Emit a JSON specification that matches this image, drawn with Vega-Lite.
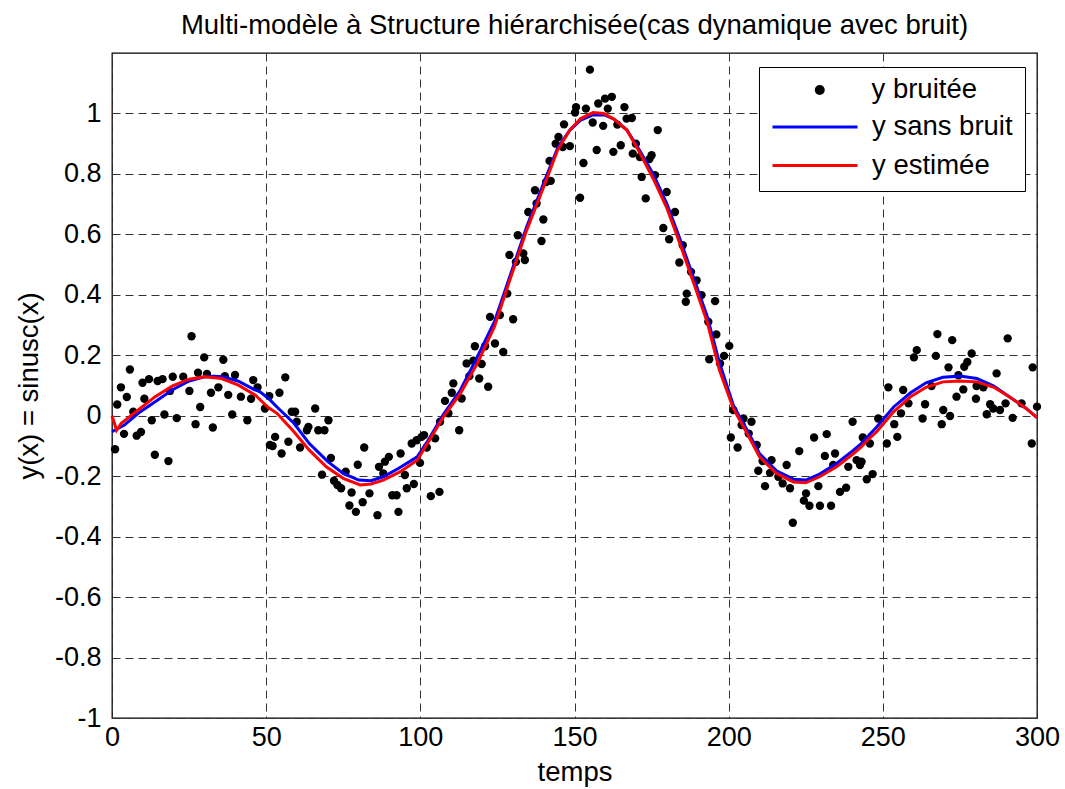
{
  "$schema": "https://vega.github.io/schema/vega-lite/v6.json",
  "width": 925,
  "height": 665,
  "autosize": {"type": "none"},
  "padding": {"left": 112, "top": 53, "right": 28, "bottom": 71},
  "background": "white",
  "title": {
    "text": "Multi-modèle à Structure hiérarchisée(cas dynamique avec bruit)",
    "font": "Liberation Sans",
    "fontSize": 27.5,
    "fontWeight": "normal",
    "color": "black",
    "anchor": "middle",
    "offset": 14
  },
  "config": {
    "view": {"stroke": "black", "strokeWidth": 1.3},
    "axis": {
      "labelFont": "Liberation Sans",
      "labelFontSize": 27,
      "labelColor": "black",
      "titleFont": "Liberation Sans",
      "titleFontSize": 27.5,
      "titleFontWeight": "normal",
      "titleColor": "black",
      "grid": true,
      "gridColor": "#333333",
      "gridDash": [8, 5],
      "gridWidth": 1,
      "domain": false,
      "ticks": false,
      "labelFlush": false,
      "labelOverlap": false
    },
    "legend": {
      "labelFont": "Liberation Sans",
      "labelFontSize": 27.5,
      "labelColor": "black",
      "titleFont": "Liberation Sans",
      "titleColor": "black",
      "clipHeight": 24,
      "rowPadding": 10.5
    }
  },
  "datasets": {
    "bruit": [
      {"t":1.0,"y":-0.111},{"t":1.7,"y":0.037},{"t":2.9,"y":0.094},{"t":3.9,"y":-0.060},{"t":4.8,"y":0.062},
      {"t":5.8,"y":0.153},{"t":6.9,"y":0.013},{"t":8.0,"y":-0.066},{"t":9.4,"y":-0.054},{"t":9.9,"y":0.109},
      {"t":10.5,"y":0.056},{"t":12.0,"y":0.121},{"t":12.9,"y":-0.015},{"t":13.9,"y":-0.129},{"t":14.8,"y":0.115},
      {"t":16.4,"y":0.121},{"t":17.0,"y":0.004},{"t":18.3,"y":-0.150},{"t":18.8,"y":0.082},{"t":19.7,"y":0.129},
      {"t":21.0,"y":-0.008},{"t":23.1,"y":0.129},{"t":25.1,"y":0.082},{"t":25.8,"y":0.263},{"t":27.1,"y":-0.028},
      {"t":27.9,"y":0.142},{"t":28.6,"y":0.029},{"t":29.9,"y":0.193},{"t":30.8,"y":0.138},{"t":32.1,"y":0.076},
      {"t":32.7,"y":-0.039},{"t":34.5,"y":0.094},{"t":36.1,"y":0.185},{"t":36.6,"y":0.131},{"t":37.7,"y":0.069},
      {"t":39.0,"y":0.004},{"t":39.9,"y":0.135},{"t":41.8,"y":0.063},{"t":43.9,"y":-0.015},{"t":45.1,"y":0.056},
      {"t":45.8,"y":0.118},{"t":47.2,"y":0.094},{"t":49.6,"y":0.024},{"t":51.2,"y":-0.097},
      {"t":51.0,"y":0.065},{"t":52.1,"y":-0.100},{"t":52.9,"y":-0.070},{"t":54.3,"y":0.076},{"t":55.0,"y":-0.125},
      {"t":56.2,"y":0.127},{"t":57.2,"y":-0.086},{"t":58.3,"y":0.013},{"t":59.4,"y":0.013},{"t":59.9,"y":-0.020},
      {"t":61.0,"y":-0.105},{"t":63.2,"y":-0.048},{"t":63.7,"y":-0.037},{"t":65.9,"y":0.024},{"t":66.9,"y":-0.048},
      {"t":68.1,"y":-0.195},{"t":68.9,"y":-0.048},{"t":70.2,"y":-0.015},{"t":71.0,"y":-0.140},{"t":72.0,"y":-0.215},
      {"t":73.1,"y":-0.229},{"t":74.3,"y":-0.240},{"t":75.8,"y":-0.185},{"t":77.0,"y":-0.297},{"t":77.7,"y":-0.254},
      {"t":79.1,"y":-0.318},{"t":79.7,"y":-0.162},{"t":81.3,"y":-0.286},{"t":81.8,"y":-0.105},{"t":83.5,"y":-0.257},
      {"t":86.1,"y":-0.329},{"t":86.6,"y":-0.169},{"t":88.0,"y":-0.191},{"t":88.5,"y":-0.152},{"t":89.8,"y":-0.136},
      {"t":90.9,"y":-0.263},{"t":92.3,"y":-0.263},{"t":92.9,"y":-0.318},{"t":93.6,"y":-0.125},{"t":95.0,"y":-0.196},
      {"t":95.6,"y":-0.240},{"t":97.2,"y":-0.092},{"t":97.9,"y":-0.226},{"t":98.8,"y":-0.081},{"t":99.9,"y":-0.156},
      {"t":100.4,"y":-0.070},
      {"t":101.2,"y":-0.064},{"t":102.1,"y":-0.105},{"t":103.4,"y":-0.266},{"t":104.8,"y":-0.075},{"t":106.2,"y":-0.252},
      {"t":106.4,"y":-0.020},{"t":108.0,"y":0.049},{"t":109.1,"y":0.008},{"t":110.2,"y":0.076},{"t":110.7,"y":0.107},
      {"t":112.6,"y":-0.048},{"t":113.4,"y":0.057},{"t":115.0,"y":0.173},{"t":115.9,"y":0.131},{"t":117.2,"y":0.182},
      {"t":117.7,"y":0.230},{"t":119.1,"y":0.123},{"t":119.9,"y":0.171},{"t":121.0,"y":0.230},{"t":122.0,"y":0.096},
      {"t":122.6,"y":0.327},{"t":124.2,"y":0.239},{"t":125.8,"y":0.333},{"t":126.9,"y":0.211},{"t":128.2,"y":0.404},
      {"t":128.9,"y":0.532},{"t":130.1,"y":0.319},{"t":131.0,"y":0.509},{"t":131.6,"y":0.597},{"t":133.4,"y":0.537},
      {"t":133.9,"y":0.515},{"t":135.0,"y":0.674},{"t":137.2,"y":0.746},{"t":137.7,"y":0.702},{"t":139.3,"y":0.578},
      {"t":139.9,"y":0.649},{"t":140.8,"y":0.773},{"t":141.9,"y":0.843},{"t":142.3,"y":0.777},{"t":143.9,"y":0.900},
      {"t":144.8,"y":0.922},{"t":146.2,"y":0.889},{"t":146.6,"y":0.964},
      {"t":148.5,"y":0.892},{"t":150.2,"y":1.003},{"t":150.5,"y":1.021},{"t":151.8,"y":0.721},{"t":152.9,"y":0.836},
      {"t":153.7,"y":1.016},{"t":155.0,"y":1.145},{"t":155.9,"y":0.970},{"t":157.2,"y":0.879},{"t":157.7,"y":1.033},
      {"t":159.3,"y":0.959},{"t":159.9,"y":1.049},{"t":160.8,"y":1.016},{"t":162.1,"y":1.055},{"t":162.6,"y":0.873},
      {"t":163.9,"y":0.963},{"t":165.0,"y":0.895},{"t":166.2,"y":1.021},{"t":166.9,"y":0.983},{"t":168.6,"y":0.985},
      {"t":168.9,"y":0.867},{"t":169.9,"y":0.900},{"t":171.2,"y":0.856},{"t":171.8,"y":0.790},{"t":173.1,"y":0.719},
      {"t":174.3,"y":0.849},{"t":175.0,"y":0.862},{"t":176.1,"y":0.796},{"t":177.0,"y":0.945},{"t":178.8,"y":0.621},
      {"t":179.9,"y":0.740},{"t":180.7,"y":0.584},{"t":182.6,"y":0.674},{"t":184.0,"y":0.507},{"t":185.1,"y":0.564},
      {"t":186.1,"y":0.377},{"t":186.4,"y":0.404},{"t":187.8,"y":0.476},{"t":189.6,"y":0.448},{"t":191.2,"y":0.399},
      {"t":193.4,"y":0.311},{"t":193.7,"y":0.187},{"t":195.6,"y":0.379},{"t":196.0,"y":0.269},
      {"t":197.2,"y":0.173},{"t":198.5,"y":0.198},{"t":200.2,"y":0.231},{"t":200.7,"y":-0.072},{"t":201.5,"y":0.019},
      {"t":202.9,"y":-0.105},{"t":204.2,"y":-0.031},{"t":204.8,"y":-0.009},{"t":206.5,"y":-0.059},{"t":207.4,"y":-0.020},
      {"t":209.1,"y":-0.097},{"t":209.6,"y":-0.182},{"t":211.0,"y":-0.150},{"t":211.8,"y":-0.233},{"t":213.4,"y":-0.189},
      {"t":213.9,"y":-0.147},{"t":216.1,"y":-0.202},{"t":217.5,"y":-0.224},{"t":218.8,"y":-0.163},{"t":219.9,"y":-0.240},
      {"t":220.8,"y":-0.354},{"t":222.9,"y":-0.117},{"t":224.4,"y":-0.281},{"t":225.1,"y":-0.257},{"t":226.2,"y":-0.298},
      {"t":227.7,"y":-0.072},{"t":229.1,"y":-0.233},{"t":229.6,"y":-0.298},{"t":231.2,"y":-0.133},{"t":231.8,"y":-0.061},
      {"t":233.2,"y":-0.298},{"t":233.9,"y":-0.163},{"t":234.5,"y":-0.125},{"t":236.1,"y":-0.252},{"t":238.1,"y":-0.238},
      {"t":238.8,"y":-0.169},{"t":240.2,"y":-0.020},{"t":241.5,"y":-0.147},{"t":242.6,"y":-0.163},{"t":243.1,"y":-0.152},
      {"t":243.5,"y":-0.072},{"t":244.8,"y":-0.210},{"t":245.8,"y":-0.092},{"t":246.7,"y":-0.193},
      {"t":248.5,"y":-0.009},{"t":251.3,"y":-0.092},{"t":251.8,"y":0.094},{"t":253.7,"y":-0.028},{"t":254.7,"y":-0.070},
      {"t":255.9,"y":0.008},{"t":256.6,"y":0.085},{"t":258.3,"y":0.041},{"t":260.1,"y":0.193},{"t":261.0,"y":0.217},
      {"t":262.9,"y":-0.009},{"t":263.7,"y":0.038},{"t":265.8,"y":0.098},{"t":267.2,"y":0.198},{"t":267.7,"y":0.270},
      {"t":269.1,"y":-0.028},{"t":269.6,"y":0.019},{"t":271.3,"y":0.160},{"t":271.8,"y":-0.001},{"t":272.5,"y":0.250},
      {"t":273.9,"y":0.063},{"t":274.5,"y":0.134},{"t":276.1,"y":0.087},{"t":276.4,"y":0.162},{"t":277.4,"y":0.178},
      {"t":278.8,"y":0.206},{"t":280.2,"y":0.056},{"t":280.4,"y":0.098},{"t":282.6,"y":0.094},{"t":283.7,"y":0.005},
      {"t":284.8,"y":0.038},{"t":285.8,"y":0.024},{"t":286.9,"y":0.140},{"t":288.0,"y":0.019},{"t":289.8,"y":0.041},
      {"t":290.5,"y":0.256},{"t":292.1,"y":-0.007},{"t":295.0,"y":0.041},{"t":298.3,"y":-0.092},{"t":298.6,"y":0.160},
      {"t":300.0,"y":0.030}
    ],
    "sansbruit": [
      {"t":0,"y":-0.053},{"t":4,"y":-0.031},{"t":8.5,"y":0.008},{"t":14,"y":0.046},{"t":19.5,"y":0.085},
      {"t":25,"y":0.115},{"t":30,"y":0.129},{"t":33,"y":0.131},{"t":36,"y":0.129},{"t":41,"y":0.114},
      {"t":46,"y":0.087},{"t":48,"y":0.079},{"t":51,"y":0.055},{"t":53.5,"y":0.029},{"t":59,"y":-0.025},
      {"t":64,"y":-0.092},{"t":70,"y":-0.152},{"t":75,"y":-0.191},{"t":80,"y":-0.213},{"t":84,"y":-0.215},
      {"t":88,"y":-0.202},{"t":93,"y":-0.174},{"t":99,"y":-0.136},{"t":102,"y":-0.090},{"t":107.5,"y":0.005},
      {"t":113,"y":0.085},{"t":118,"y":0.185},{"t":124,"y":0.310},{"t":129,"y":0.460},{"t":134.5,"y":0.625},
      {"t":140,"y":0.770},{"t":144.5,"y":0.885},{"t":148.5,"y":0.945},{"t":152,"y":0.978},{"t":156,"y":0.995},
      {"t":159.5,"y":0.996},{"t":163,"y":0.980},{"t":167,"y":0.945},{"t":171,"y":0.880},{"t":175.5,"y":0.800},
      {"t":180,"y":0.700},{"t":184,"y":0.590},{"t":188.5,"y":0.460},{"t":193,"y":0.330},{"t":197,"y":0.176},
      {"t":201.5,"y":0.035},{"t":206,"y":-0.048},{"t":210,"y":-0.125},{"t":215.5,"y":-0.182},{"t":221,"y":-0.210},
      {"t":225,"y":-0.213},{"t":229.5,"y":-0.193},{"t":235,"y":-0.158},{"t":240.5,"y":-0.114},{"t":243,"y":-0.092},
      {"t":245,"y":-0.070},{"t":248,"y":-0.037},{"t":253.5,"y":0.029},{"t":259,"y":0.076},{"t":264,"y":0.109},
      {"t":269.5,"y":0.127},{"t":275,"y":0.131},{"t":280.5,"y":0.123},{"t":286,"y":0.098},{"t":291,"y":0.063},
      {"t":296.5,"y":0.024},{"t":300,"y":-0.006}
    ],
    "estimee": [
      {"t":0,"y":0.0},{"t":1.5,"y":-0.048},{"t":3,"y":-0.025},{"t":8.5,"y":0.019},{"t":14,"y":0.063},
      {"t":19.5,"y":0.098},{"t":25,"y":0.121},{"t":30,"y":0.129},{"t":35.5,"y":0.123},{"t":41,"y":0.101},
      {"t":46.5,"y":0.068},{"t":50.5,"y":0.029},{"t":53.5,"y":0.008},{"t":59,"y":-0.053},{"t":64,"y":-0.114},
      {"t":69.5,"y":-0.169},{"t":75,"y":-0.207},{"t":80.5,"y":-0.229},{"t":84,"y":-0.226},{"t":88,"y":-0.213},
      {"t":93.5,"y":-0.185},{"t":99,"y":-0.147},{"t":102,"y":-0.097},{"t":107.5,"y":-0.004},{"t":113,"y":0.074},
      {"t":118.5,"y":0.173},{"t":124,"y":0.294},{"t":129,"y":0.448},{"t":134.5,"y":0.614},{"t":140,"y":0.757},
      {"t":144.5,"y":0.878},{"t":148.5,"y":0.945},{"t":152,"y":0.983},{"t":156,"y":1.003},{"t":159.5,"y":1.000},
      {"t":162.5,"y":0.983},{"t":167,"y":0.945},{"t":171,"y":0.873},{"t":175.5,"y":0.785},{"t":180,"y":0.686},
      {"t":184,"y":0.575},{"t":188.5,"y":0.443},{"t":193,"y":0.311},{"t":197,"y":0.151},{"t":201.5,"y":0.024},
      {"t":206,"y":-0.059},{"t":210,"y":-0.136},{"t":215.5,"y":-0.191},{"t":221,"y":-0.219},{"t":225,"y":-0.222},
      {"t":229.5,"y":-0.202},{"t":235,"y":-0.169},{"t":240.5,"y":-0.125},{"t":243,"y":-0.103},{"t":245,"y":-0.081},
      {"t":248,"y":-0.053},{"t":253.5,"y":0.013},{"t":259,"y":0.063},{"t":264,"y":0.094},{"t":269.5,"y":0.112},
      {"t":275,"y":0.115},{"t":280.5,"y":0.112},{"t":286,"y":0.094},{"t":291,"y":0.063},{"t":296.5,"y":0.024},
      {"t":300,"y":-0.006}
    ]
  },
  "encoding": {
    "x": {
      "field": "t",
      "type": "quantitative",
      "scale": {"domain": [0, 300], "nice": false, "zero": false},
      "axis": {
        "title": "temps",
        "values": [0, 50, 100, 150, 200, 250, 300],
        "labelPadding": 6,
        "titlePadding": 8
      }
    },
    "y": {
      "field": "y",
      "type": "quantitative",
      "scale": {"domain": [-1, 1.2], "nice": false, "zero": false},
      "axis": {
        "title": "y(x) = sinusc(x)",
        "values": [-1, -0.8, -0.6, -0.4, -0.2, 0, 0.2, 0.4, 0.6, 0.8, 1],
        "labelExpr": "'' + datum.value",
        "labelPadding": 11,
        "titlePadding": 11
      }
    }
  },
  "layer": [
    {
      "data": {"name": "bruit"},
      "mark": {"type": "point", "filled": true, "size": 70, "opacity": 1},
      "encoding": {
        "fill": {
          "datum": "y bruitée",
          "type": "nominal",
          "scale": {"domain": ["y bruitée"], "range": ["#000000"]},
          "legend": {
            "orient": "none",
            "legendX": 694,
            "legendY": 25,
            "padding": 0,
            "title": null,
            "symbolType": "circle",
            "symbolSize": 100,
            "symbolStrokeWidth": 0,
            "labelOffset": 38,
            "zindex": 2
          }
        }
      }
    },
    {
      "data": {"name": "sansbruit"},
      "mark": {"type": "line", "strokeWidth": 3},
      "encoding": {
        "color": {
          "datum": "y sans bruit",
          "type": "nominal",
          "scale": {"domain": ["y sans bruit", "y estimée"], "range": ["#0000ff", "#ff0000"]},
          "legend": {
            "orient": "none",
            "legendX": 647,
            "legendY": 14,
            "padding": 12,
            "title": " ",
            "titleFontSize": 24,
            "titlePadding": 12,
            "strokeColor": "black",
            "fillColor": "white",
            "symbolType": "stroke",
            "symbolSize": 7225,
            "symbolStrokeWidth": 3,
            "labelOffset": 13,
            "zindex": 1
          }
        }
      }
    },
    {
      "data": {"name": "estimee"},
      "mark": {"type": "line", "strokeWidth": 3},
      "encoding": {"color": {"datum": "y estimée", "type": "nominal"}}
    }
  ]
}
